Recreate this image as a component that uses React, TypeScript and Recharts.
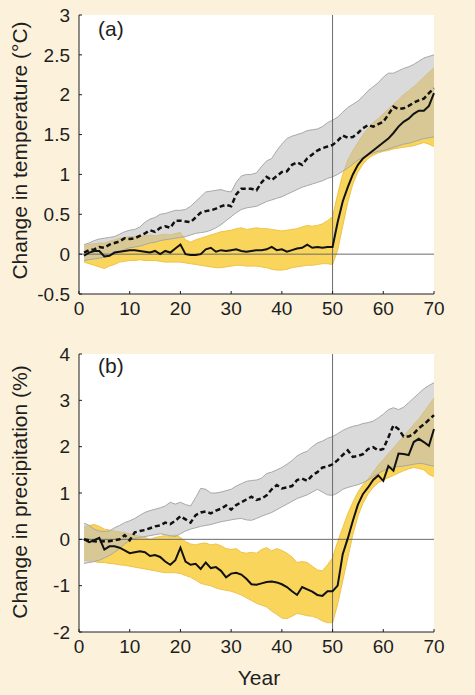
import React from "react"
import {
  Area,
  CartesianGrid,
  ComposedChart,
  Line,
  ReferenceLine,
  XAxis,
  YAxis,
} from "recharts"

// years 1..70 of the run
const years = Array.from({ length: 70 }, (_, i) => i + 1)
const xTicks = [0, 10, 20, 30, 40, 50, 60, 70]

// (a) temperature change, degC
const tempTicks = [-0.5, 0, 0.5, 1, 1.5, 2, 2.5, 3]
const tempExp = [
  -0.02, 0.02, 0.04, 0.04, -0.03, -0.02, 0.02, 0.03, 0.04, 0.05,
  0.05, 0.04, 0.03, 0.02, 0.04, 0.0, 0.04, 0.02, 0.07, 0.12,
  0.0, -0.01, -0.01, 0.0, 0.06, 0.08, 0.03, 0.05, 0.04, 0.05,
  0.06, 0.04, 0.03, 0.04, 0.05, 0.05, 0.06, 0.09, 0.05, 0.06,
  0.03, 0.05, 0.07, 0.08, 0.12, 0.08, 0.09, 0.08, 0.09, 0.09,
  0.4, 0.66, 0.84, 1.0, 1.12, 1.2, 1.25, 1.3, 1.35, 1.4,
  1.45, 1.52, 1.6, 1.66, 1.7, 1.76, 1.8, 1.8, 1.86, 2.02,
]
const tempExpHi = [
  0.1, 0.12, 0.13, 0.14, 0.14, 0.16, 0.18, 0.2, 0.21, 0.22,
  0.22, 0.23, 0.23, 0.24, 0.23, 0.24, 0.25, 0.24, 0.26, 0.27,
  0.18, 0.15, 0.18, 0.2, 0.22, 0.24, 0.26, 0.28, 0.29, 0.3,
  0.32, 0.33, 0.31, 0.32, 0.33, 0.32, 0.32, 0.31, 0.3, 0.29,
  0.3, 0.31, 0.32, 0.34, 0.36, 0.35, 0.36, 0.38, 0.42, 0.47,
  0.75, 1.0, 1.18, 1.3, 1.4, 1.5, 1.58, 1.65, 1.7, 1.76,
  1.82, 1.88, 1.94, 2.0, 2.05, 2.1, 2.16, 2.22, 2.28, 2.34,
]
const tempExpLo = [
  -0.1, -0.12, -0.14, -0.16, -0.18, -0.15, -0.13, -0.1, -0.09, -0.08,
  -0.08, -0.07, -0.08, -0.08, -0.08, -0.09, -0.1, -0.1, -0.1, -0.1,
  -0.11, -0.12, -0.13, -0.14, -0.15, -0.16, -0.17, -0.17, -0.16, -0.15,
  -0.14, -0.14, -0.15, -0.15, -0.15, -0.16, -0.17, -0.19, -0.2, -0.2,
  -0.19, -0.17, -0.16, -0.15, -0.14, -0.14, -0.13, -0.12, -0.12, -0.13,
  0.05, 0.35, 0.65, 0.88, 1.03, 1.13, 1.2, 1.24, 1.27, 1.29,
  1.3, 1.32, 1.33, 1.34, 1.35, 1.36, 1.38, 1.4, 1.38, 1.35,
]
const tempCtrl = [
  0.02, 0.05, 0.06, 0.09, 0.08, 0.12, 0.14, 0.16, 0.2, 0.19,
  0.2, 0.23, 0.26, 0.3, 0.28, 0.33, 0.35, 0.33, 0.42, 0.42,
  0.41, 0.4, 0.46, 0.52, 0.54, 0.55, 0.57, 0.6, 0.62, 0.6,
  0.75, 0.82, 0.82, 0.82, 0.8, 0.9, 0.97, 0.93, 0.98, 1.03,
  1.04, 1.12, 1.15, 1.12, 1.2, 1.25, 1.3, 1.33, 1.35, 1.37,
  1.42, 1.49, 1.46, 1.47, 1.52, 1.58, 1.62, 1.6, 1.63, 1.66,
  1.75, 1.85, 1.82, 1.83, 1.86, 1.9, 1.93, 1.95, 2.02, 2.08,
]
const tempCtrlHi = [
  0.12, 0.14, 0.17, 0.19, 0.2, 0.21, 0.22, 0.25, 0.28, 0.3,
  0.31, 0.34, 0.4, 0.44, 0.46, 0.5, 0.51, 0.53, 0.55, 0.55,
  0.56, 0.6, 0.66, 0.72, 0.78, 0.79, 0.8, 0.81, 0.79, 0.78,
  0.9, 0.98, 1.0, 1.0, 1.02, 1.1, 1.17, 1.2, 1.3, 1.38,
  1.45, 1.48, 1.5, 1.52, 1.55, 1.56, 1.57, 1.6, 1.65, 1.68,
  1.72, 1.78, 1.84, 1.88, 1.92, 1.98, 2.05, 2.1, 2.15, 2.22,
  2.27, 2.27, 2.3, 2.33, 2.35, 2.38, 2.42, 2.46, 2.48, 2.5,
]
const tempCtrlLo = [
  -0.08, -0.07, -0.06, -0.05, -0.04, -0.02, 0.0, 0.03, 0.06, 0.08,
  0.09, 0.1, 0.12, 0.14, 0.15, 0.17, 0.18, 0.19, 0.2, 0.21,
  0.22, 0.24, 0.26, 0.27, 0.28, 0.3, 0.33, 0.37, 0.42, 0.47,
  0.52, 0.56, 0.58, 0.59, 0.6, 0.63, 0.66, 0.68, 0.7, 0.72,
  0.75, 0.78, 0.81, 0.84, 0.86, 0.88, 0.9, 0.92, 0.95, 0.97,
  1.0, 1.04, 1.08, 1.13, 1.18, 1.21, 1.24, 1.27, 1.29, 1.3,
  1.32, 1.34, 1.36, 1.38, 1.39, 1.41, 1.43, 1.45, 1.46, 1.47,
]

// (b) precipitation change, %
const precTicks = [-2, -1, 0, 1, 2, 3, 4]
const precExp = [
  0.0, -0.06, -0.02, 0.03, -0.22, -0.15, -0.15, -0.18, -0.24, -0.3,
  -0.28, -0.26, -0.28, -0.36, -0.34, -0.38, -0.48, -0.55, -0.45, -0.18,
  -0.48, -0.55, -0.53, -0.64, -0.5, -0.62, -0.6, -0.68, -0.82, -0.74,
  -0.72, -0.76, -0.85, -0.97, -0.98, -0.95, -0.92, -0.91, -0.93, -0.97,
  -1.03, -1.12, -1.2, -1.03, -1.08, -1.13, -1.2, -1.22, -1.12, -1.12,
  -1.0, -0.32, 0.02, 0.4, 0.75, 0.98, 1.12, 1.28, 1.38, 1.26,
  1.58, 1.48, 1.85, 1.84, 1.82, 2.1, 2.17, 2.1, 2.02, 2.38,
]
const precExpHi = [
  0.27, 0.3, 0.32, 0.28, 0.22, 0.2, 0.18, 0.16, 0.14, 0.12,
  0.09, 0.07, 0.04, 0.0, 0.04, 0.06, 0.08, 0.06, 0.1, 0.04,
  -0.05, -0.1, -0.12, -0.09, -0.08, -0.12, -0.1, -0.14, -0.2, -0.22,
  -0.2, -0.28, -0.3, -0.28, -0.3, -0.22, -0.18, -0.25, -0.2, -0.24,
  -0.3, -0.38, -0.5, -0.48, -0.5, -0.58, -0.66, -0.68, -0.55, -0.4,
  -0.05, 0.25, 0.55, 0.8, 1.02, 1.18, 1.3, 1.45, 1.6, 1.72,
  1.85, 1.97, 2.1, 2.22, 2.35, 2.48, 2.6, 2.75, 2.9, 3.05,
]
const precExpLo = [
  -0.45, -0.47, -0.48, -0.5, -0.5, -0.52, -0.53, -0.55, -0.56, -0.58,
  -0.6, -0.62, -0.64, -0.66, -0.68, -0.7, -0.72, -0.72, -0.72, -0.74,
  -0.78, -0.82, -0.88, -0.95, -0.98, -1.0, -1.05, -1.08, -1.1, -1.12,
  -1.16, -1.2, -1.26, -1.32, -1.38, -1.42, -1.46, -1.55, -1.62, -1.7,
  -1.71, -1.66, -1.6, -1.62, -1.65, -1.66, -1.7, -1.76, -1.8, -1.8,
  -1.4, -0.9, -0.4, 0.1, 0.5, 0.78, 0.98, 1.12, 1.22, 1.28,
  1.33, 1.38, 1.43, 1.48, 1.52, 1.55, 1.53, 1.5, 1.4, 1.35,
]
const precCtrl = [
  0.0, -0.02, -0.04, -0.05, -0.04, -0.04, -0.02, 0.0, 0.09, -0.02,
  0.15, 0.18, 0.2, 0.24, 0.28, 0.3, 0.36, 0.33, 0.4, 0.5,
  0.43, 0.36, 0.52, 0.58, 0.6, 0.56, 0.62, 0.66, 0.73, 0.64,
  0.74, 0.8, 0.86, 0.92, 0.85, 0.88, 0.95, 1.08, 1.17, 1.1,
  1.12, 1.15, 1.28, 1.31, 1.26, 1.38, 1.45, 1.55, 1.57, 1.62,
  1.71, 1.82, 1.92, 1.78, 1.8, 1.84, 1.95, 1.99, 1.92, 1.95,
  2.2, 2.46, 2.38, 2.22, 2.22, 2.28, 2.4, 2.48, 2.58, 2.68,
]
const precCtrlHi = [
  0.35, 0.3, 0.22, 0.18, 0.17, 0.18, 0.25, 0.3, 0.36, 0.4,
  0.45, 0.52, 0.58, 0.62, 0.65, 0.68, 0.72, 0.8, 0.76, 0.8,
  0.75, 0.72, 0.9, 1.1, 1.08, 1.0, 1.0, 1.02, 1.05, 1.08,
  1.15, 1.2, 1.25, 1.27, 1.28, 1.32, 1.42, 1.45, 1.5, 1.55,
  1.62, 1.7, 1.8, 1.86, 1.9, 2.0, 2.08, 2.12, 2.18, 2.22,
  2.28, 2.35, 2.4, 2.44, 2.46, 2.5, 2.52, 2.55, 2.62, 2.7,
  2.8, 2.84, 2.8, 2.85, 2.95, 3.05, 3.15, 3.25, 3.32, 3.38,
]
const precCtrlLo = [
  -0.52, -0.5, -0.48, -0.45, -0.4, -0.35, -0.28, -0.2, -0.1, -0.02,
  0.02, 0.04, 0.06, 0.08, 0.1, 0.12, 0.1, 0.08, 0.06, 0.12,
  0.18, 0.22, 0.25, 0.28, 0.3, 0.32, 0.35, 0.38, 0.4, 0.42,
  0.44, 0.45, 0.42, 0.41, 0.45, 0.5, 0.54, 0.58, 0.64, 0.7,
  0.76, 0.82, 0.88, 0.92, 0.96, 1.02, 1.08, 1.02, 0.96, 0.95,
  1.0, 1.08, 1.12, 1.15, 1.18, 1.22, 1.28, 1.35, 1.42, 1.48,
  1.54, 1.56, 1.57, 1.58, 1.6, 1.62, 1.64, 1.63, 1.6, 1.58,
]

const font = "'Liberation Sans', Arial, Helvetica, sans-serif"
const ink = "#1e1e1e"

function rows(exp: number[], lo: number[], hi: number[], ctrl: number[], cLo: number[], cHi: number[]) {
  return years.map((year, i) => ({
    year,
    exp: exp[i],
    expBand: [lo[i], hi[i]],
    ctrl: ctrl[i],
    ctrlBand: [cLo[i], cHi[i]],
  }))
}

const tempData = rows(tempExp, tempExpLo, tempExpHi, tempCtrl, tempCtrlLo, tempCtrlHi)
const precData = rows(precExp, precExpLo, precExpHi, precCtrl, precCtrlLo, precCtrlHi)

function Panel({ data, domain, ticks, top, bottom }: any) {
  return (
    <div style={{ position: "absolute", left: 0, top }}>
      <ComposedChart
        width={475}
        height={330}
        data={data}
        margin={{ top: 15, right: 41, left: 0, bottom }}
      >
        <CartesianGrid horizontal={false} vertical={false} fill="#ffffff" stroke="none" />
        <XAxis
          dataKey="year"
          type="number"
          domain={[0, 70]}
          ticks={xTicks}
          interval={0}
          height={30}
          tickSize={-3}
          tickMargin={11}
          axisLine={{ stroke: ink }}
          tickLine={{ stroke: ink }}
          tick={{ fill: ink, fontSize: 19, fontFamily: font }}
        />
        <YAxis
          type="number"
          domain={domain}
          ticks={ticks}
          interval={0}
          width={79}
          tickSize={-3}
          tickMargin={12}
          axisLine={{ stroke: ink }}
          tickLine={{ stroke: ink }}
          tick={{ fill: ink, fontSize: 19, fontFamily: font }}
        />
        <Area
          type="linear"
          dataKey="expBand"
          fill="#f9d55c"
          fillOpacity={1}
          stroke="#efc24a"
          strokeWidth={1}
          isAnimationActive={false}
        />
        <Area
          type="linear"
          dataKey="ctrlBand"
          fill="#c0c0c0"
          fillOpacity={0.58}
          stroke="#a8a8a8"
          strokeWidth={1}
          isAnimationActive={false}
        />
        <ReferenceLine x={50} stroke="#6a6a6a" strokeWidth={1} />
        <ReferenceLine y={0} stroke="#6a6a6a" strokeWidth={1} />
        <Line
          type="linear"
          dataKey="ctrl"
          stroke="#111"
          strokeWidth={2.5}
          strokeDasharray="5 3"
          dot={false}
          isAnimationActive={false}
        />
        <Line
          type="linear"
          dataKey="exp"
          stroke="#111"
          strokeWidth={2}
          dot={false}
          isAnimationActive={false}
        />
      </ComposedChart>
    </div>
  )
}

export default function App() {
  return (
    <div
      style={{
        position: "absolute",
        left: 0,
        top: 0,
        width: 475,
        height: 695,
        background: "#fcf2dc",
        overflow: "hidden",
      }}
    >
      <Panel data={tempData} domain={[-0.5, 3]} ticks={tempTicks} top={0} bottom={6} />
      <Panel data={precData} domain={[-2, 4]} ticks={precTicks} top={339} bottom={7} />

      {/* titles and panel tags */}
      <svg
        width={475}
        height={695}
        style={{ position: "absolute", left: 0, top: 0, pointerEvents: "none" }}
      >
        <g fill={ink} fontFamily={font} fontSize={21}>
          <text x={98} y={35.6}>(a)</text>
          <text x={98} y={372.6}>(b)</text>
          <text x={27} y={150.5} textAnchor="middle" transform="rotate(-90 27 150.5)">
            Change in temperature (°C)
          </text>
          <text x={27} y={492} textAnchor="middle" transform="rotate(-90 27 492)">
            Change in precipitation (%)
          </text>
          <text x={259} y={685} textAnchor="middle">Year</text>
        </g>
      </svg>
    </div>
  )
}
